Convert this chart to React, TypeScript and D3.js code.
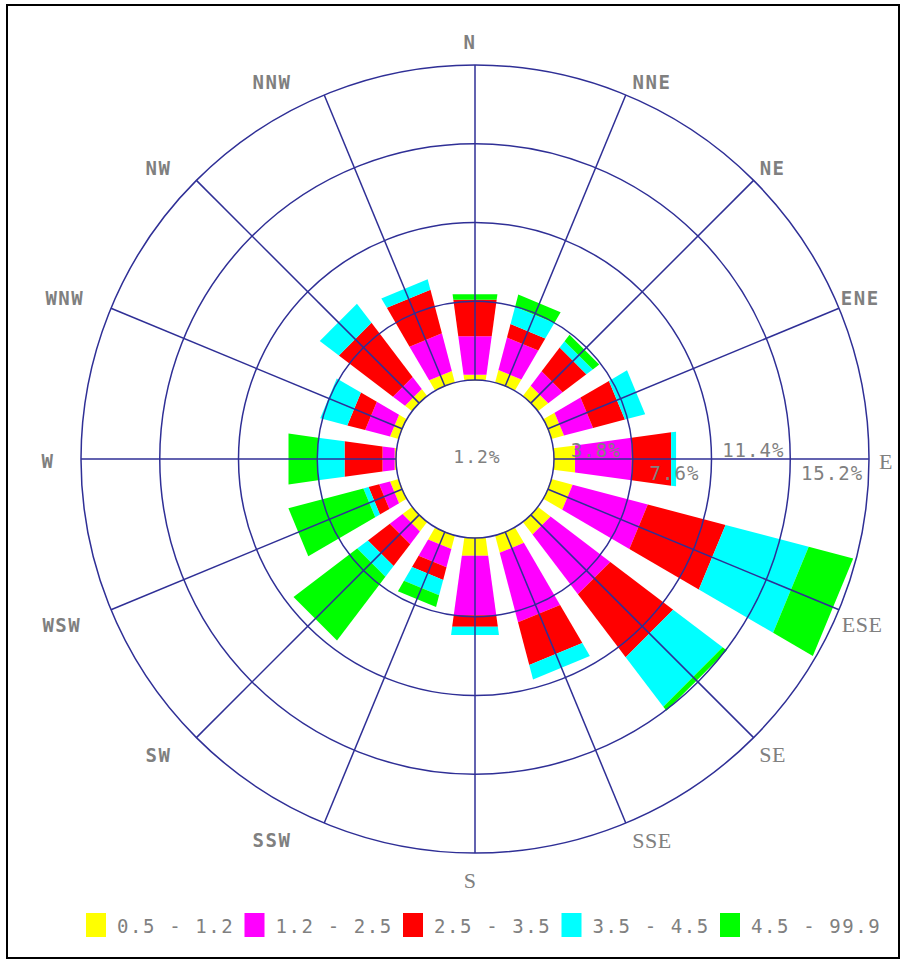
import React from 'react';
import * as d3 from 'd3';

// ---------- data ----------
const DIRECTIONS = ['N', 'NNE', 'NE', 'ENE', 'E', 'ESE', 'SE', 'SSE', 'S', 'SSW', 'SW', 'WSW', 'W', 'WNW', 'NW', 'NNW'];
const SPEED_CLASSES = ['0.5 - 1.2', '1.2 - 2.5', '2.5 - 3.5', '3.5 - 4.5', '4.5 - 99.9'];
const CLASS_COLORS = ['#ffff00', '#ff00ff', '#ff0000', '#00ffff', '#00ff00'];

// frequency (%) per direction for each wind-speed class
const CLASS_05_12 = [0.29, 0.63, 0.63, 0.63, 1.06, 1.06, 0.77, 0.87, 0.90, 0.68, 0.58, 0.43, 0.10, 0.43, 0.43, 0.58];
const CLASS_12_25 = [1.88, 1.62, 0.87, 1.45, 2.75, 3.75, 3.62, 3.47, 2.90, 0.91, 0.77, 0.54, 0.59, 1.24, 0.73, 1.88];
const CLASS_25_35 = [1.77, 0.67, 1.44, 1.59, 1.93, 3.88, 3.81, 2.13, 0.56, 0.63, 1.33, 0.53, 1.85, 0.89, 3.28, 2.17];
const CLASS_35_45 = [0.00, 0.87, 0.39, 1.01, 0.24, 4.15, 3.00, 0.72, 0.40, 0.77, 0.65, 0.26, 1.29, 1.35, 1.16, 0.53];
const CLASS_45_999 = [0.27, 0.60, 0.39, 0.00, 0.00, 2.22, 0.25, 0.00, 0.00, 0.58, 3.86, 3.74, 1.44, 0.00, 0.00, 0.00];

const CALM = 1.2;
const RING_TICKS = [3.8, 7.6, 11.4, 15.2];
const RING_LABELS = ['3.8%', '7.6%', '11.4%', '15.2%'];
const CALM_LABEL = '1.2%';

// ---------- layout / style ----------
const W = 907;
const H = 963;
const CX = 475;
const CY = 459;
const R_CALM = 79;
const R_OUT = 394;
const BAR_DEG = 15.5;
const GRID = '#2f2f96';
const TEXT_GRAY = '#808080';
const LABEL_R = 418;
// small nudges (dx, dy) for direction labels
const LABEL_NUDGE: [number, number][] = [
  [-5, 1], [17, 9], [2, 5], [-1, -1], [-7, 2], [1, 6], [2, 0], [17, -5],
  [-5, 3], [-43, -5], [-21, 0], [-27, 6], [-9, 2], [-24, -1], [-21, 5], [-43, 9],
];
const SERIF_LABELS = ['E', 'ESE', 'SE', 'SSE', 'S'];

export default function App() {
  const rScale = d3.scaleLinear().domain([0, 15.2]).range([R_CALM, R_OUT]);
  const aScale = d3.scaleLinear().domain([0, DIRECTIONS.length]).range([0, 2 * Math.PI]);
  const hw = (BAR_DEG / 2) * Math.PI / 180;

  const series = [CLASS_05_12, CLASS_12_25, CLASS_25_35, CLASS_35_45, CLASS_45_999];
  const keys = SPEED_CLASSES;
  const rows = DIRECTIONS.map((d, i) => {
    const o: any = { dir: d };
    keys.forEach((k, j) => (o[k] = series[j][i]));
    return o;
  });
  const stacked = d3.stack().keys(keys)(rows as any);

  const pt = (a: number, r: number): [number, number] => [CX + r * Math.sin(a), CY - r * Math.cos(a)];
  const line = d3.line();

  const segs: { d: string; fill: string; key: string }[] = [];
  stacked.forEach((s, j) => {
    s.forEach((v, i) => {
      if (v[1] - v[0] <= 0.0001) return;
      const a = aScale(i);
      const r0 = rScale(v[0]);
      const r1 = rScale(v[1]);
      const d = line([pt(a - hw, r0), pt(a - hw, r1), pt(a + hw, r1), pt(a + hw, r0)]) + 'Z';
      segs.push({ d, fill: CLASS_COLORS[j], key: `${j}-${i}` });
    });
  });

  const mono = '"DejaVu Sans Mono", monospace';
  const serif = '"Liberation Serif", "DejaVu Serif", serif';

  return (
    <svg width={W} height={H} style={{ position: 'absolute', left: 0, top: 0, background: '#fff' }}>
      <rect x={7} y={5} width={892} height={953} fill="#fff" stroke="#000" strokeWidth={2} />
      {segs.map(s => (
        <path key={s.key} d={s.d} fill={s.fill} stroke="none" />
      ))}
      {/* grid */}
      <circle cx={CX} cy={CY} r={rScale(0)} fill="none" stroke={GRID} strokeWidth={1.5} />
      {RING_TICKS.map(t => (
        <circle key={t} cx={CX} cy={CY} r={rScale(t)} fill="none" stroke={GRID} strokeWidth={1.5} />
      ))}
      {DIRECTIONS.map((d, i) => {
        const a = aScale(i);
        const [x0, y0] = pt(a, rScale(0));
        const [x1, y1] = pt(a, rScale(15.2));
        return <line key={d} x1={x0} y1={y0} x2={x1} y2={y1} stroke={GRID} strokeWidth={1.5} />;
      })}
      {/* ring labels */}
      <text x={CX + 2} y={CY + 4} fontFamily={mono} fontSize={18} letterSpacing={1} fill={TEXT_GRAY} textAnchor="middle">
        {CALM_LABEL}
      </text>
      {RING_TICKS.map((t, i) => (
        <text
          key={t}
          x={CX + rScale(t) - 37}
          y={CY + (i % 2 === 0 ? -2 : 21)}
          fontFamily={mono}
          fontSize={19}
          letterSpacing={1}
          fill={TEXT_GRAY}
          textAnchor="middle"
        >
          {RING_LABELS[i]}
        </text>
      ))}
      {/* direction labels */}
      {DIRECTIONS.map((d, i) => {
        const a = aScale(i);
        const [x, y] = pt(a, LABEL_R);
        const isSerif = SERIF_LABELS.includes(d);
        return (
          <text
            key={d}
            x={x + LABEL_NUDGE[i][0]}
            y={y + LABEL_NUDGE[i][1]}
            fontFamily={isSerif ? serif : mono}
            fontSize={isSerif ? 22 : 19}
            fontWeight={isSerif ? 'normal' : 'bold'}
            letterSpacing={isSerif ? 0.5 : 1.5}
            fill={TEXT_GRAY}
            textAnchor="middle"
            dominantBaseline="central"
          >
            {d}
          </text>
        );
      })}
      {/* legend */}
      {SPEED_CLASSES.map((c, i) => {
        const x = 86 + i * 158.5;
        return (
          <g key={c}>
            <rect x={x} y={913} width={20} height={24} fill={CLASS_COLORS[i]} />
            <text x={x + 31} y={933} fontFamily={mono} fontSize={19} letterSpacing={1.6} fill={TEXT_GRAY}>
              {c}
            </text>
          </g>
        );
      })}
    </svg>
  );
}
